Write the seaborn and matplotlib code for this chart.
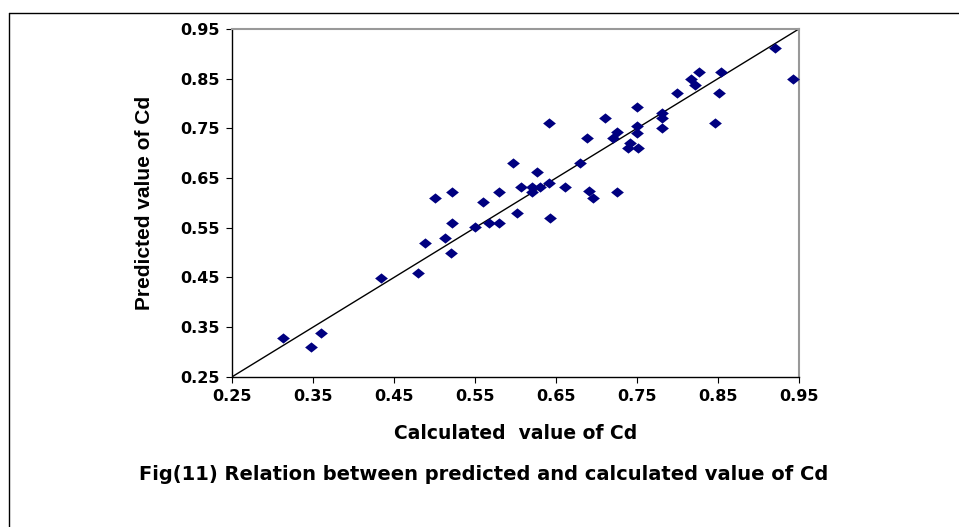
import matplotlib
matplotlib.use("Agg")
import matplotlib.pyplot as plt
import seaborn as sns
import pandas as pd

sns.set_style("white")
plt.rcParams['font.family'] = ['DejaVu Sans']
plt.rcParams['text.color'] = 'black'
plt.rcParams['axes.labelcolor'] = 'black'
plt.rcParams['xtick.color'] = 'black'
plt.rcParams['ytick.color'] = 'black'

# calculated Cd, predicted Cd
calculated = [0.313, 0.347, 0.360, 0.434, 0.480, 0.488, 0.501, 0.522, 0.522, 0.513,
              0.520, 0.550, 0.567, 0.580, 0.560, 0.580, 0.602, 0.597, 0.607, 0.620,
              0.620, 0.630, 0.641, 0.627, 0.641, 0.661, 0.643, 0.680, 0.688, 0.710,
              0.750, 0.725, 0.720, 0.750, 0.750, 0.742, 0.739, 0.751, 0.691, 0.696,
              0.725, 0.781, 0.781, 0.781, 0.921, 0.943, 0.854, 0.827, 0.817, 0.822,
              0.799, 0.851, 0.847]
predicted = [0.329, 0.310, 0.338, 0.449, 0.458, 0.520, 0.610, 0.622, 0.560, 0.530,
             0.499, 0.551, 0.560, 0.560, 0.601, 0.622, 0.579, 0.680, 0.632, 0.632,
             0.621, 0.632, 0.640, 0.663, 0.761, 0.631, 0.570, 0.681, 0.730, 0.770,
             0.792, 0.743, 0.730, 0.754, 0.741, 0.721, 0.710, 0.710, 0.623, 0.609,
             0.622, 0.781, 0.770, 0.751, 0.911, 0.850, 0.864, 0.864, 0.850, 0.838,
             0.822, 0.822, 0.760]
line_ends = [0.25, 0.95]
ticks = [0.25, 0.35, 0.45, 0.55, 0.65, 0.75, 0.85, 0.95]

df = pd.DataFrame({'calc': calculated, 'pred': predicted})

fig = plt.figure(figsize=(9.59, 5.27), dpi=100)
ax = fig.add_axes([0.242, 0.285, 0.591, 0.660])

diamond = [(-1, 0), (0, 0.8), (1, 0), (0, -0.8), (-1, 0)]
sns.lineplot(x=line_ends, y=line_ends, color='black', linewidth=1.0, ax=ax)
sns.scatterplot(x='calc', y='pred', data=df, marker=diamond, s=85,
                color='#000080', edgecolor='#000080', linewidth=0, ax=ax, zorder=3)

ax.set_xlim(0.25, 0.95)
ax.set_ylim(0.25, 0.95)
ax.set_xticks(ticks)
ax.set_yticks(ticks)
ax.set_xticklabels([f'{t:.2f}' for t in ticks], fontsize=11.5, fontweight='bold')
ax.set_yticklabels([f'{t:.2f}' for t in ticks], fontsize=11.5, fontweight='bold')
ax.tick_params(direction='out', length=4, width=0.8, color='black', pad=5)
ax.xaxis.set_ticks_position('bottom')
ax.yaxis.set_ticks_position('left')
for side in ['left', 'bottom']:
    ax.spines[side].set_color('black')
    ax.spines[side].set_linewidth(1.0)
for side in ['top', 'right']:
    ax.spines[side].set_color('#999999')
    ax.spines[side].set_linewidth(1.5)

ax.set_xlabel('Calculated  value of Cd', fontsize=13.5, fontweight='bold')
ax.xaxis.set_label_coords(0.5, -0.136)
ax.set_ylabel('Predicted value of Cd', fontsize=15, fontweight='bold',
              family=['Liberation Sans', 'DejaVu Sans'])
ax.yaxis.set_label_coords(-0.138, 0.5)

fig.text(0.504, 0.0987, 'Fig(11) Relation between predicted and calculated value of Cd',
         ha='center', va='center', fontsize=14, fontweight='bold')

# outer frame (top and left edges only)
fig.add_artist(plt.Line2D([9 / 959, 9 / 959], [0, 1 - 13 / 527], color='black', lw=1))
fig.add_artist(plt.Line2D([9 / 959, 1], [1 - 13 / 527, 1 - 13 / 527], color='black', lw=1))

fig.savefig('out.png', dpi=100)
